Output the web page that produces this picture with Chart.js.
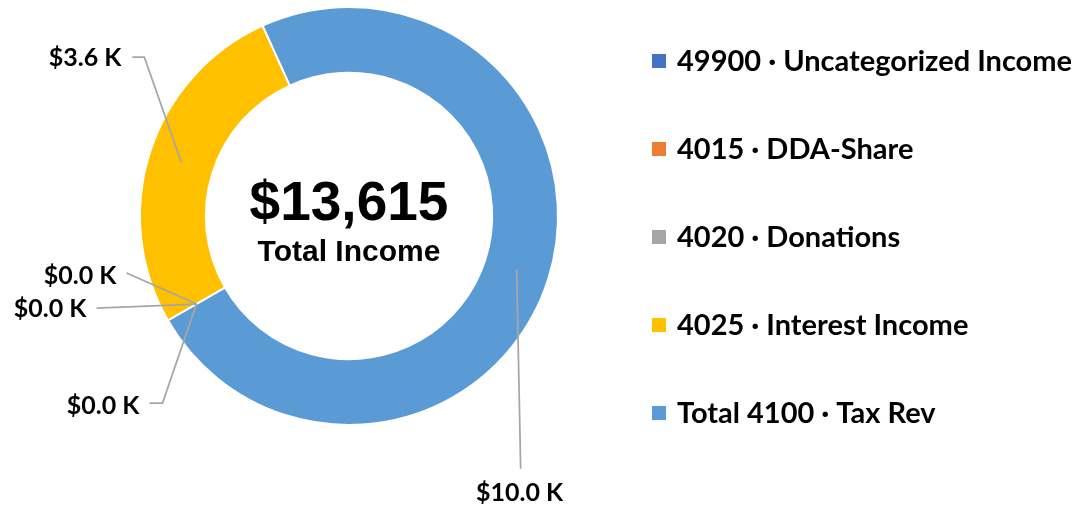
<!DOCTYPE html>
<html>
<head>
<meta charset="utf-8">
<script src="https://cdn.jsdelivr.net/npm/chart.js@4"></script>
<style>
html, body { margin: 0; padding: 0; background: #fff; }
</style>
</head>
<body>
<canvas id="incomeChart" width="1084" height="510"></canvas>
<script>
// income accounts
var categories = ["49900 · Uncategorized Income", "4015 · DDA-Share", "4020 · Donations", "4025 · Interest Income", "Total 4100 · Tax Rev"];
var amounts = [0, 0, 0, 3615, 10000];
var colors = ["#4472C4", "#ED7D31", "#A5A5A5", "#FFC000", "#5B9BD5"];
var centerCaption = "Total Income";

// where each data label sits, relative to its slice anchor (text end, then leader line points)
var labelLayout = [
  { dx: -80, dy: -28, align: "right", line: [[-70, -31]] },
  { dx: -110, dy: 5, align: "right", line: [[-100, 4]] },
  { dx: -57, dy: 102, align: "right", line: [[-47, 99], [-34, 99]] },
  { dx: -60, dy: -104, align: "right", line: [[-49, -105], [-37, -105]] },
  { dx: 3, dy: 223, align: "center", line: [[4, 199]] }
];

var total = amounts.reduce(function (a, b) { return a + b; }, 0);

function money(v) {
  return "$" + (v / 1000).toFixed(1) + " K";
}

var labelFont = "bold 25px Lato";
var legendFont = "bold 29px Lato";

var extras = {
  id: "extras",
  afterDraw: function (chart) {
    var ctx = chart.ctx;
    var meta = chart.getDatasetMeta(0);
    var arcs = meta.data;
    var cx = arcs[0].x, cy = arcs[0].y;

    ctx.save();
    // centre text
    ctx.fillStyle = "#000";
    ctx.textAlign = "center";
    ctx.textBaseline = "middle";
    ctx.font = "bold 55px 'Liberation Sans', Arial";
    ctx.fillText("$" + total.toLocaleString("en-US"), cx, cy - 11);
    ctx.font = "bold 30px 'Liberation Sans', Arial";
    ctx.fillText(centerCaption, cx, cy + 37);

    // data labels with leader lines
    ctx.strokeStyle = "#A6A6A6";
    ctx.lineWidth = 1.75;
    ctx.font = labelFont;
    arcs.forEach(function (arc, i) {
      var p = arc.tooltipPosition();
      var lay = labelLayout[i];
      ctx.beginPath();
      ctx.moveTo(p.x + lay.line[0][0], p.y + lay.line[0][1]);
      for (var k = 1; k < lay.line.length; k++) ctx.lineTo(p.x + lay.line[k][0], p.y + lay.line[k][1]);
      ctx.lineTo(p.x, p.y);
      ctx.stroke();
      ctx.fillStyle = "#000";
      ctx.textAlign = lay.align;
      ctx.textBaseline = "middle";
      ctx.fillText(money(amounts[i]), p.x + lay.dx, p.y + lay.dy);
    });

    // legend
    ctx.font = legendFont;
    ctx.textAlign = "left";
    var legendX = 652, legendTop = 61, legendGap = 88;
    categories.forEach(function (name, i) {
      var y = legendTop + i * legendGap;
      ctx.fillStyle = colors[i];
      ctx.fillRect(legendX, y - 7, 14, 14);
      ctx.fillStyle = "#000";
      ctx.fillText(name, legendX + 25, y + 1);
    });
    ctx.restore();
  }
};

var canvasIncome = document.getElementById("incomeChart");
var incomeChart = new Chart(canvasIncome, {
  type: "doughnut",
  data: {
    labels: categories,
    datasets: [{
      data: amounts,
      backgroundColor: colors,
      borderColor: "#ffffff",
      borderWidth: 2,
      hoverOffset: 0
    }]
  },
  options: {
    responsive: false,
    animation: false,
    rotation: 240,
    cutout: "68.5%",
    layout: { padding: { left: 139, right: 525, top: 6, bottom: 84 } },
    plugins: {
      legend: { display: false },
      tooltip: { enabled: false }
    }
  },
  plugins: [extras]
});
</script>
</body>
</html>
